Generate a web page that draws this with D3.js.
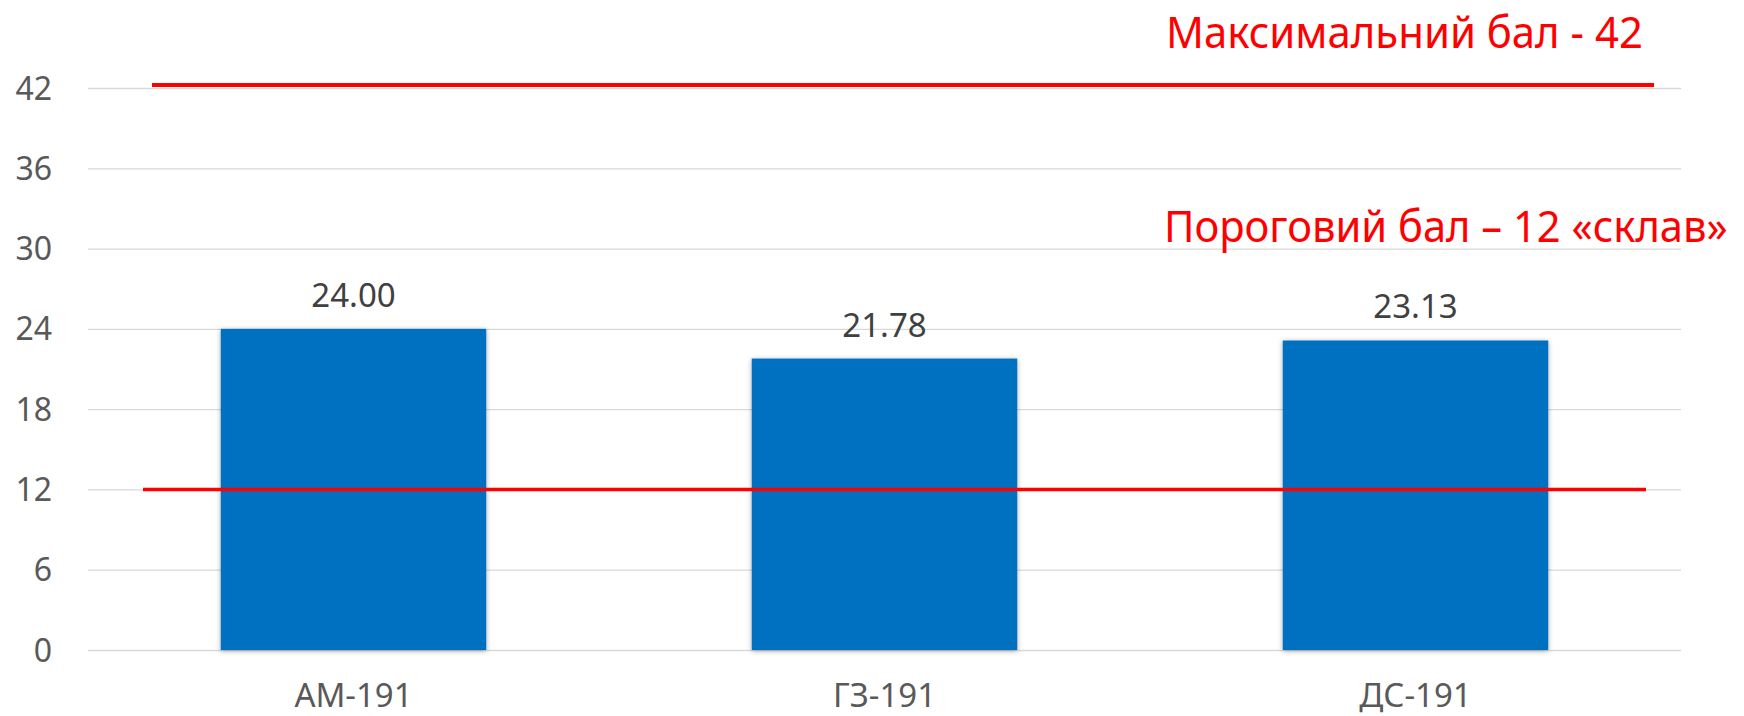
<html>
<head>
	<meta charset="utf-8">
	<style>
		body { margin: 0; background: #fff; }
		svg { display: block; }
		.grid line { stroke: #d9d9d9; stroke-width: 1.3; }
		.grid path { display: none; }
		.tick-label { font-family: "Noto Sans", sans-serif; font-size: 32px; fill: #595959; }
		.value-label { font-family: "Noto Sans", sans-serif; font-size: 33px; fill: #404040; }
		.cat-label { font-family: "Noto Sans", sans-serif; font-size: 33px; fill: #595959; }
		.note { font-family: "Noto Sans", sans-serif; font-size: 43px; fill: #ff0000; }
	</style>
</head>
<body>
	<script src="https://cdn.jsdelivr.net/npm/d3@7"></script>
	<script>
	// data
	var groups = ["АМ-191", "ГЗ-191", "ДС-191"];
	var scores = [24.00, 21.78, 23.13];
	var yTicks = [0, 6, 12, 18, 24, 30, 36, 42];
	var maxScore = 42;
	var passScore = 12;
	var noteMax = "Максимальний бал - 42";
	var notePass = "Пороговий бал – 12 «склав»";

	var width = 1744, height = 716;
	var margin = {top: 88, right: 63, bottom: 66, left: 88};

	var svg = d3.select("body")
		.append("svg")
		.attr("width", width)
		.attr("height", height);

	// soft shadow like the office chart bars
	var defs = svg.append("defs");
	var f = defs.append("filter").attr("id", "shadow")
		.attr("x", "-5%").attr("y", "-5%").attr("width", "110%").attr("height", "110%");
	f.append("feDropShadow")
		.attr("dx", 0).attr("dy", 1)
		.attr("stdDeviation", 2.5)
		.attr("flood-color", "#000")
		.attr("flood-opacity", 0.35);

	var x = d3.scaleBand()
		.domain(groups)
		.range([margin.left, width - margin.right])
		.paddingInner(0.5)
		.paddingOuter(0.25);

	var y = d3.scaleLinear()
		.domain([0, 42])
		.range([height - margin.bottom, margin.top]);

	//gridlines
	svg.append("g")
		.attr("class", "grid")
		.attr("transform", "translate(" + margin.left + ",0)")
		.call(d3.axisLeft(y)
			.tickValues(yTicks)
			.tickSize(-(width - margin.left - margin.right))
			.tickFormat(""));

	//y tick labels
	svg.selectAll(".tick-label")
		.data(yTicks)
		.enter().append("text")
		.attr("class", "tick-label")
		.attr("x", margin.left - 36)
		.attr("y", function(d) { return y(d); })
		.attr("dy", "0.36em")
		.attr("text-anchor", "end")
		.text(function(d) { return d; });

	//bars
	svg.selectAll(".bar")
		.data(scores)
		.enter().append("rect")
		.attr("class", "bar")
		.attr("x", function(d, i) { return x(groups[i]); })
		.attr("y", function(d) { return y(d); })
		.attr("width", x.bandwidth())
		.attr("height", function(d) { return y(0) - y(d); })
		.attr("fill", "#0070c0")
		.attr("filter", "url(#shadow)");

	//values above bars
	svg.selectAll(".value-label")
		.data(scores)
		.enter().append("text")
		.attr("class", "value-label")
		.attr("x", function(d, i) { return x(groups[i]) + x.bandwidth() / 2; })
		.attr("y", function(d) { return y(d) - 22; })
		.attr("text-anchor", "middle")
		.text(function(d) { return d.toFixed(2); });

	//category names (sit right at the bottom edge, as in the original)
	svg.selectAll(".cat-label")
		.data(groups)
		.enter().append("text")
		.attr("class", "cat-label")
		.attr("x", function(d) { return x(d) + x.bandwidth() / 2; })
		.attr("y", y(0) + 57)
		.attr("text-anchor", "middle")
		.text(function(d) { return d; });

	//reference lines (max and pass)
	var plotL = margin.left, plotR = width - margin.right;
	svg.append("line")
		.attr("x1", plotL + 64).attr("x2", plotR - 27)
		.attr("y1", y(maxScore) - 3).attr("y2", y(maxScore) - 3)
		.attr("stroke", "#ff0000").attr("stroke-width", 4);

	svg.append("line")
		.attr("x1", plotL + 55).attr("x2", plotR - 35)
		.attr("y1", y(passScore)).attr("y2", y(passScore))
		.attr("stroke", "#ff0000").attr("stroke-width", 3.5);

	//notes - squeezed horizontally to get the narrow office font look
	function note(txt, px, py, size, w) {
		var t = svg.append("text")
			.attr("class", "note")
			.attr("font-size", size + "px")
			.text(txt);
		var natural = t.node().getComputedTextLength();
		t.attr("transform", "translate(" + px + "," + py + ") scale(" + (w / natural) + ",1)");
	}
	note(noteMax, 1166, 48, 43, 477);
	note(notePass, 1164, 242, 41, 564);
	</script>
</body>
</html>
